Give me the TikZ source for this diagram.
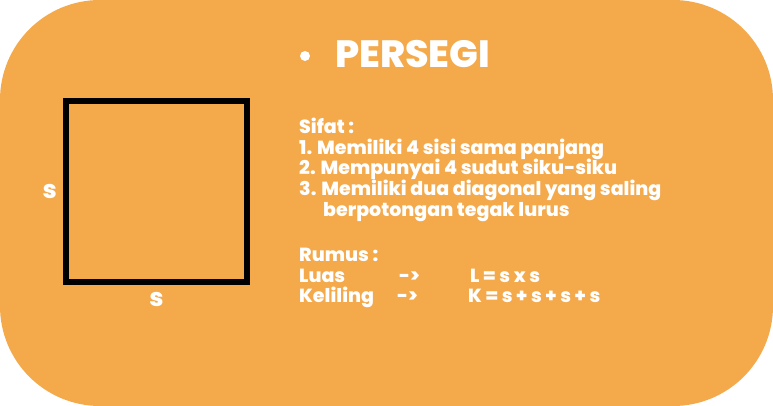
\documentclass[tikz,border=0pt]{standalone}
\usepackage{fontspec}
\setmainfont{Poppins}[BoldFont={Poppins ExtraBold}]
\usetikzlibrary{positioning}
\definecolor{oranye}{HTML}{F4A94B}

\begin{document}
\begin{tikzpicture}[x=1pt,y=-1pt,
  teks/.style={text=white,font=\bfseries\fontsize{19}{20}\selectfont,inner sep=0pt,anchor=base west},
  label sisi/.style={text=white,font=\bfseries\fontsize{25}{26}\selectfont,inner sep=0pt}]
\fill[white] (0,0) rectangle (773,406);
\useasboundingbox (0,0) rectangle (773,406);
\fill[oranye,rounded corners=100pt] (0,0) rectangle (773,406);
% gambar persegi
\node [draw,line width=6pt,minimum size=181pt,inner sep=0pt] at (156.5,191.5)(persegi){};
\node [label sisi,left=6pt of persegi] (sisikiri){s};
\node [label sisi,below=7pt of persegi] (sisibawah){s};
% judul
\node [circle,fill=white,inner sep=0pt,minimum size=10pt] at (305,56)(titik){};
\node [teks,font=\bfseries\fontsize{38}{40}\selectfont] at (335,68)(judul){PERSEGI};
% sifat
\node [teks] at (299,134)(sifat){Sifat :};
\node [teks] at (299,155)(sifat1){1. Memiliki 4 sisi sama panjang};
\node [teks] at (299,175)(sifat2){2. Mempunyai 4 sudut siku-siku};
\node [teks] at (299,196)(sifat3){3. Memiliki dua diagonal yang saling};
\node [teks] at (323,216)(sifat3b){berpotongan tegak lurus};
% rumus
\node [teks] at (299,261)(rumus){Rumus :};
\node [teks] at (299,282)(luas){Luas};
\node [teks] at (399,282)(panahluas){->};
\node [teks] at (470,282)(rumusluas){L = s x s};
\node [teks] at (299,302)(keliling){Keliling};
\node [teks] at (397,302)(panahkel){->};
\node [teks] at (468,302)(rumuskel){K = s + s + s + s};
\end{tikzpicture}
\end{document}
